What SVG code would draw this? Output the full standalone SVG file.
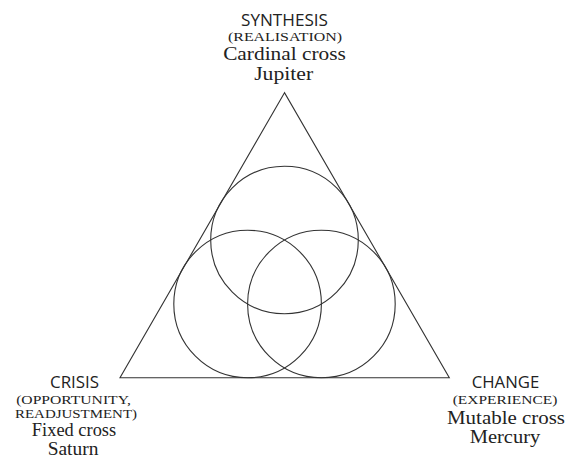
<svg xmlns="http://www.w3.org/2000/svg" width="566" height="462" viewBox="0 0 566 462">
<style>
.sh{font-family:"Open Sans","Liberation Sans",sans-serif;font-size:16.5px;fill:#222;text-anchor:middle}
.sc{font-family:"Liberation Serif",serif;font-size:13.5px;fill:#222;text-anchor:middle}
.sl{font-family:"Liberation Serif",serif;font-size:18px;fill:#222;text-anchor:middle}
.ln{fill:none;stroke:#333;stroke-width:1.1}
</style>
<rect width="566" height="462" fill="#fff"/>
<g id="connectors">
<polygon class="ln" points="284.5,92.7 120,377.7 449.3,377.7"/>
</g>
<g id="circle-top"><circle class="ln" cx="284.5" cy="240" r="73.8"/></g>
<g id="circle-left"><circle class="ln" cx="247.6" cy="304" r="73.8"/></g>
<g id="circle-right"><circle class="ln" cx="321.4" cy="304" r="73.8"/></g>
<g id="synthesis">
<text class="sh" x="284.5" y="25.5" textLength="87" lengthAdjust="spacingAndGlyphs">SYNTHESIS</text>
<text class="sc" x="285" y="40.8" textLength="114" lengthAdjust="spacingAndGlyphs">(REALISATION)</text>
<text class="sl" x="284.5" y="59.8" textLength="122.7" lengthAdjust="spacingAndGlyphs">Cardinal cross</text>
<text class="sl" x="283.7" y="80.3" textLength="59" lengthAdjust="spacingAndGlyphs">Jupiter</text>
</g>
<g id="crisis">
<text class="sh" x="74.5" y="388" textLength="49" lengthAdjust="spacingAndGlyphs">CRISIS</text>
<text class="sc" x="73.5" y="403.6" textLength="114.7" lengthAdjust="spacingAndGlyphs">(OPPORTUNITY,</text>
<text class="sc" x="76" y="418.3" textLength="122" lengthAdjust="spacingAndGlyphs">READJUSTMENT)</text>
<text class="sl" x="74" y="436.3" textLength="84.3" lengthAdjust="spacingAndGlyphs">Fixed cross</text>
<text class="sl" x="73" y="454.5" textLength="50.7" lengthAdjust="spacingAndGlyphs">Saturn</text>
</g>
<g id="change">
<text class="sh" x="505.5" y="388" textLength="67.6" lengthAdjust="spacingAndGlyphs">CHANGE</text>
<text class="sc" x="505" y="403.5" textLength="104.7" lengthAdjust="spacingAndGlyphs">(EXPERIENCE)</text>
<text class="sl" x="506" y="424.3" textLength="118" lengthAdjust="spacingAndGlyphs">Mutable cross</text>
<text class="sl" x="505" y="443" textLength="70.7" lengthAdjust="spacingAndGlyphs">Mercury</text>
</g>
</svg>
